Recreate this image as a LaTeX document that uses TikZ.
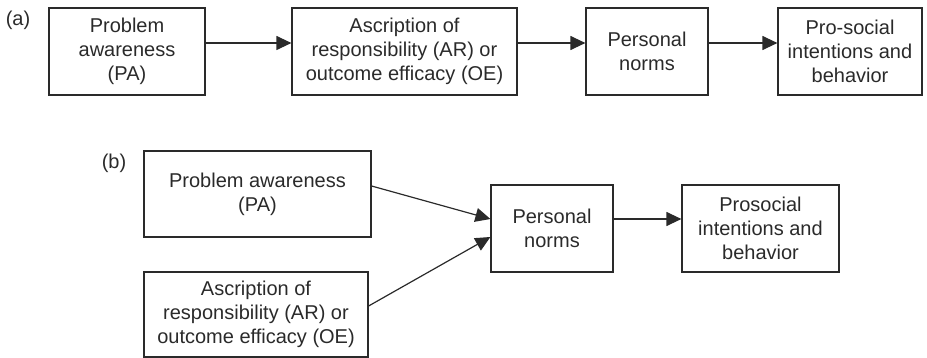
\documentclass[tikz,border=0pt]{standalone}
\usepackage{fontspec}
\setmainfont{Liberation Sans}
\usetikzlibrary{arrows.meta}
\definecolor{ink}{HTML}{2A2A2A}
\tikzset{
  box/.style={draw=ink, line width=1.2pt, inner sep=0pt, align=center, text=ink,
    font=\fontsize{20}{24}\selectfont},
  lab/.style={inner sep=0pt, text=ink, font=\fontsize{20}{24}\selectfont},
  arr/.style={draw=ink, line width=1.2pt, -{Triangle[length=15pt,width=14pt]}}
}
\begin{document}
\begin{tikzpicture}[x=1pt,y=-1pt]
\useasboundingbox (0,0) rectangle (927,358);
% panel (a)
\node[lab] (la) at (18,20) {(a)};
\node[box, minimum width=156pt, minimum height=87pt] (a1) at (127,51.5) {Problem\\awareness\\(PA)};
\node[box, minimum width=225pt, minimum height=87pt] (a2) at (404.5,51.5) {Ascription of\\responsibility (AR) or\\outcome efficacy (OE)};
\node[box, minimum width=122pt, minimum height=87pt] (a3) at (647,51.5) {Personal\\norms};
\node[box, minimum width=144pt, minimum height=87pt] (a4) at (850,51.5) {Pro-social\\intentions and\\behavior};
\draw[arr] ([yshift=8.5pt]a1.east) -- ([yshift=8.5pt]a2.west);
\draw[arr] ([yshift=8.5pt]a2.east) -- ([yshift=8.5pt]a3.west);
\draw[arr] ([yshift=8.5pt]a3.east) -- ([yshift=8.5pt]a4.west);
% panel (b)
\node[lab] (lb) at (114,163) {(b)};
\node[box, minimum width=227pt, minimum height=86pt] (bPA) at (257.5,194) {Problem awareness\\(PA)};
\node[box, minimum width=224pt, minimum height=85pt] (bAR) at (256,314.5) {Ascription of\\responsibility (AR) or\\outcome efficacy (OE)};
\node[box, minimum width=122pt, minimum height=87pt] (bPN) at (552,228.5) {Personal\\norms};
\node[box, minimum width=157pt, minimum height=87pt] (bPS) at (760.5,228.5) {Prosocial\\intentions and\\behavior};
\draw[arr] ([yshift=8pt]bPA.east) -- ([yshift=9.5pt]bPN.west);
\draw[arr] ([yshift=8.5pt]bAR.east) -- ([yshift=-8.5pt]bPN.west);
\draw[arr] ([yshift=9.5pt]bPN.east) -- ([yshift=9.5pt]bPS.west);
\end{tikzpicture}
\end{document}
